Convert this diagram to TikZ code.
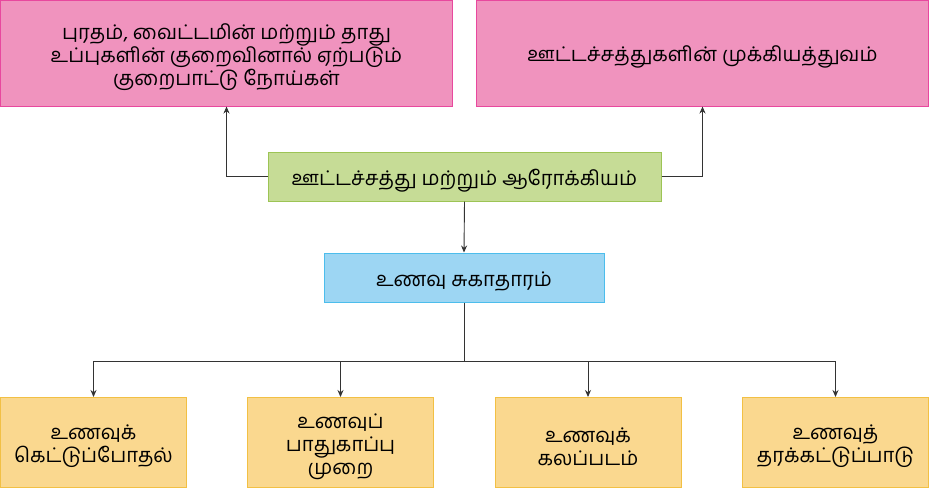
\documentclass[tikz,border=0pt]{standalone}
\usepackage{fontspec}
\newfontfamily\tamil[Script=Tamil]{Hind Madurai}
\usetikzlibrary{arrows.meta,positioning,calc}
\definecolor{pinkfill}{HTML}{F093BE}
\definecolor{pinkdraw}{HTML}{E8489E}
\definecolor{greenfill}{HTML}{C6DC96}
\definecolor{greendraw}{HTML}{9DC455}
\definecolor{bluefill}{HTML}{9DD6F3}
\definecolor{bluedraw}{HTML}{4CBDEC}
\definecolor{yelfill}{HTML}{FAD88F}
\definecolor{yeldraw}{HTML}{F2C044}
\definecolor{linec}{HTML}{333333}
\tikzset{
  txt/.style={align=center, inner sep=0pt, yshift=-4pt,
    font=\tamil\fontsize{20.2}{23}\selectfont, text=black},
  box/.style={rectangle, line width=1pt, inner sep=0pt},
  pinkbox/.style={box, fill=pinkfill, draw=pinkdraw, minimum width=452pt, minimum height=106pt},
  greenbox/.style={box, fill=greenfill, draw=greendraw, minimum width=393pt, minimum height=49pt},
  bluebox/.style={box, fill=bluefill, draw=bluedraw, minimum width=280pt, minimum height=49pt},
  yelbox/.style={box, fill=yelfill, draw=yeldraw, minimum width=186pt, minimum height=90pt},
  arr/.style={draw=linec, line width=0.9pt, -{Stealth[length=7pt,width=6pt]}},
  ln/.style={draw=linec, line width=0.9pt}
}
\begin{document}
\begin{tikzpicture}[x=1pt,y=1pt]
\useasboundingbox (0,0) rectangle (929,-488);
\node[pinkbox, label={[txt]center:புரதம், வைட்டமின் மற்றும் தாது\\உப்புகளின் குறைவினால் ஏற்படும்\\குறைபாட்டு நோய்கள்}] (pl) at (226.5,-53) {};
\node[pinkbox, label={[txt]center:ஊட்டச்சத்துகளின் முக்கியத்துவம்}] (pr) at (702.5,-53) {};
\node[greenbox, label={[txt]center:ஊட்டச்சத்து மற்றும் ஆரோக்கியம்}] (g) at (464.5,-176.5) {};
\node[bluebox, label={[txt]center:உணவு சுகாதாரம்}] (b) at (464,-277.5) {};
\node[yelbox, label={[txt]center:உணவுக்\\கெட்டுப்போதல்}] (y1) at (93.5,-442.5) {};
\node[yelbox, label={[txt]center:உணவுப்\\பாதுகாப்பு\\முறை}] (y2) at (340.5,-442.5) {};
\node[yelbox, label={[txt]center:உணவுக்\\கலப்படம்}] (y3) at (588,-442.5) {};
\node[yelbox, label={[txt]center:உணவுத்\\தரக்கட்டுப்பாடு}] (y4) at (835.5,-442.5) {};
\coordinate (j) at (464,-361);
\draw[arr] (g.west) -| (pl.south);
\draw[arr] (g.east) -| (pr.south);
\draw[arr] (g.south) -- (b.north);
\draw[ln] (b.south) -- (j);
\draw[arr] (j) -| (y1.north);
\draw[arr] (j) -| (y2.north);
\draw[arr] (j) -| (y3.north);
\draw[arr] (j) -| (y4.north);
\end{tikzpicture}
\end{document}
